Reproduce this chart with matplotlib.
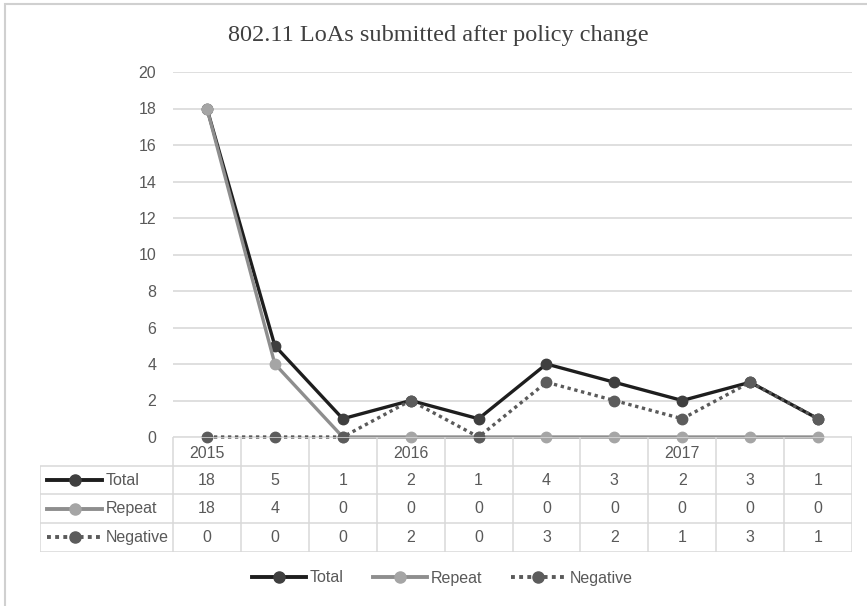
import matplotlib.pyplot as plt
from matplotlib.lines import Line2D
from matplotlib.patches import Rectangle

W, H = 867, 606

periods = ["2015", "", "", "2016", "", "", "", "2017", "", ""]
series_names = ["Total", "Repeat", "Negative"]
total = [18, 5, 1, 2, 1, 4, 3, 2, 3, 1]
repeat = [18, 4, 0, 0, 0, 0, 0, 0, 0, 0]
negative = [0, 0, 0, 2, 0, 3, 2, 1, 3, 1]
y_ticks = list(range(0, 21, 2))

styles = {
    "Total": dict(color="#1e1e1e", mfc="#3f3f3f", mec="#3f3f3f", ls="-"),
    "Repeat": dict(color="#8e8e8e", mfc="#a5a5a5", mec="#a5a5a5", ls="-"),
    "Negative": dict(color="#5a5a5a", mfc="#5c5c5c", mec="#5c5c5c", ls=(0, (1, 1.1))),
}
values = {"Total": total, "Repeat": repeat, "Negative": negative}

TXT = "#595959"
GRID = "#d9d9d9"
FONT = "Liberation Sans"


def px(x0, y0, x1, y1):
    # pixel box -> figure fraction [left, bottom, width, height]
    return [x0 / W, 1 - y1 / H, (x1 - x0) / W, (y1 - y0) / H]


fig = plt.figure(figsize=(W / 100, H / 100), dpi=100)
fig.add_artist(Rectangle((5 / W, -0.05), 1.2, 1 - 4 / H + 0.05, transform=fig.transFigure,
                         fill=False, ec="#d0d0d0", lw=1.5))

plot_l, plot_r, plot_t, plot_b = 173, 852, 72, 437
ax = fig.add_axes(px(plot_l, plot_t, plot_r, plot_b))
n = len(total)
xs = list(range(n))
for name in series_names:
    st = styles[name]
    ax.plot(xs, values[name], color=st["color"], ls=st["ls"], lw=2.4, marker="o", ms=7.5,
            mfc=st["mfc"], mec=st["mec"], clip_on=False, zorder=3,
            dash_capstyle="butt")
ax.set_xlim(-0.5, n - 0.5)
ax.set_ylim(0, 20)
ax.set_yticks(y_ticks)
ax.set_xticks([])
ax.grid(axis="y", color=GRID, lw=1.2)
ax.set_axisbelow(True)
for s in ax.spines.values():
    s.set_visible(False)
ax.tick_params(axis="y", length=0, pad=12, labelsize=11.5, labelcolor=TXT)
for lab in ax.get_yticklabels():
    lab.set_fontfamily(FONT)

# data table
tab_l, tab_t, row_h = 40, 437, 28.7
cat_w = (plot_r - plot_l) / n
left_cols = (plot_l - tab_l) / cat_w
tab = fig.add_axes(px(tab_l, tab_t, plot_r, tab_t + 4 * row_h))
tab.set_xlim(-0.5 - left_cols, n - 0.5)
tab.set_ylim(4, 0)
tab.axis("off")
lk = dict(color=GRID, lw=1.1, solid_capstyle="butt")
tab.plot([-0.5, n - 0.5], [0, 0], **lk)
for r in range(1, 5):
    tab.plot([-0.5 - left_cols, n - 0.5], [r, r], **lk)
for c in range(n + 1):
    tab.plot([c - 0.5, c - 0.5], [0, 4], **lk)
tab.plot([-0.5 - left_cols] * 2, [1, 4], **lk)
tk = dict(ha="center", va="center", fontsize=11.5, color=TXT, family=FONT)
for i, p in enumerate(periods):
    tab.text(i, 0.58, p, **tk)
glyph_w = 55 / cat_w
for r, name in enumerate(series_names, start=1):
    st = styles[name]
    x0 = -0.5 - left_cols + 7 / cat_w
    tab.add_line(Line2D([x0, x0 + glyph_w], [r + 0.5, r + 0.5], color=st["color"], ls=st["ls"],
                        lw=2.8, dash_capstyle="butt"))
    tab.add_line(Line2D([x0 + glyph_w / 2], [r + 0.5], marker="o", ms=8, mfc=st["mfc"],
                        mec=st["mec"], ls="none"))
    tab.text(x0 + glyph_w + 4 / cat_w, r + 0.5, name, ha="left", va="center", fontsize=11.5,
             color=TXT, family=FONT)
    for i, v in enumerate(values[name]):
        tab.text(i, r + 0.5, str(v), **tk)

# legend
handles = [Line2D([], [], color=styles[k]["color"], ls=styles[k]["ls"], lw=2.8,
                  marker="o", ms=8, mfc=styles[k]["mfc"], mec=styles[k]["mec"],
                  dash_capstyle="butt") for k in series_names]
leg = fig.legend(handles, series_names, loc="center", bbox_to_anchor=(442 / W, 1 - 578 / H),
                 ncol=3, frameon=False, handlelength=3.4, columnspacing=1.8,
                 handletextpad=0.25, prop={"family": FONT, "size": 11.5})
for t in leg.get_texts():
    t.set_color(TXT)

fig.text(438 / W, 1 - 36 / H, "802.11 LoAs submitted after policy change", ha="center",
         va="center", fontsize=17.5, family="Liberation Serif", color="#404040")

fig.savefig("out.png", dpi=100)
